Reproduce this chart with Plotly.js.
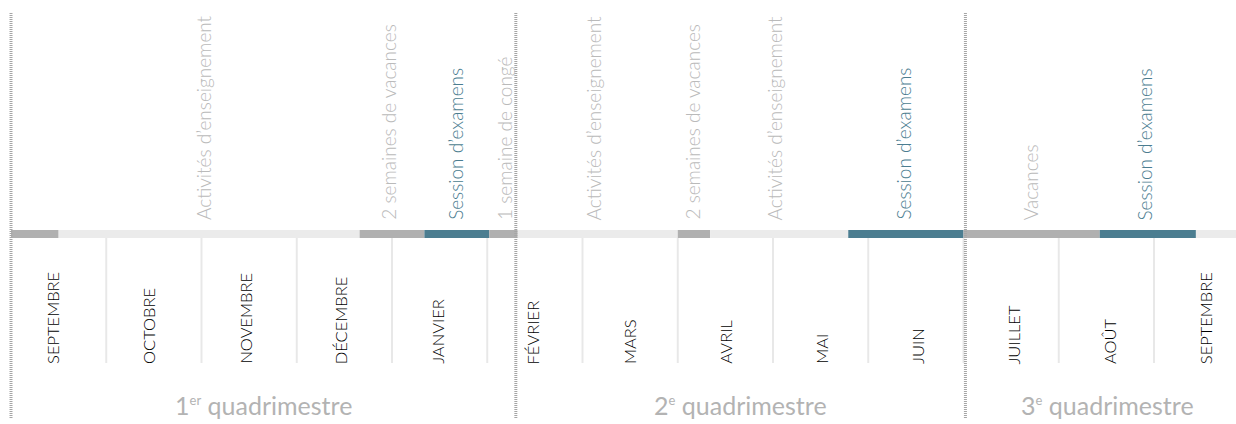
<!DOCTYPE html>
<html>
<head>
<meta charset="utf-8">
<script src="https://cdn.plot.ly/plotly-3.0.1.min.js"></script>
<style>html,body{margin:0;padding:0;background:#fff;}#chart{width:1236px;height:424px;}</style>
</head>
<body>
<div id="chart"></div>
<script>
// Timeline unit: months since 1 September (0 = 1 Sept, 12 = 1 Sept following year)
const segStart = [0, 0.5, 3.66, 4.34, 5.02, 5.32, 7.0, 7.34, 8.79, 10.0, 11.43, 12.44];
const segEnd   = [0.5, 3.66, 4.34, 5.02, 5.32, 7.0, 7.34, 8.79, 10.0, 11.43, 12.44, 13.0];
const segType  = ['pause','enseignement','pause','examens','pause','enseignement','pause','enseignement','examens','pause','examens','enseignement'];

const periodLabels = ["Activités d’enseignement", "2 semaines de vacances", "Session d’examens", "1 semaine de congé",
  "Activités d’enseignement", "2 semaines de vacances", "Activités d’enseignement", "Session d’examens",
  "Vacances", "Session d’examens"];
const periodLabelPos = [2.02, 3.96, 4.66, 5.18, 6.12, 7.15, 8.02, 9.36, 10.70, 11.90];
const periodLabelType = ['enseignement','pause','examens','pause','enseignement','pause','enseignement','examens','pause','examens'];

const months = ["SEPTEMBRE","OCTOBRE","NOVEMBRE","DÉCEMBRE","JANVIER","FÉVRIER","MARS","AVRIL","MAI","JUIN","JUILLET","AOÛT","SEPTEMBRE"];
const monthBoundaries = [1,2,3,4,5,6,7,8,9,10,11,12];

const quadNum = ["1","2","3"];
const quadSup = ["er","e","e"];
const quadStart = [0, 5.3, 10.02];
const quadEnd   = [5.3, 10.02, 13.0];

// styles
const segColors = {pause:'#b0b0b0', enseignement:'#ebebeb', examens:'#4b7d90'};
const labelColors = {pause:'#bababa', enseignement:'#bababa', examens:'#4b7d90'};
const lightFont = 'Lato, "Open Sans", sans-serif';

// vertical layout (y axis is in pixels from top)
const BAR_Y = 234, BAR_H = 8;

const traces = [];

// month separators
const sepX = [], sepY = [];
monthBoundaries.forEach(m => { sepX.push(m, m, null); sepY.push(238, 363, null); });
traces.push({type:'scatter', mode:'lines', x:sepX, y:sepY, line:{color:'#e8e8e8', width:2}, hoverinfo:'skip', showlegend:false});

// timeline bar
traces.push({
  type:'bar', orientation:'h',
  base: segStart,
  x: segEnd.map((e,i)=>e-segStart[i]),
  y: segStart.map(()=>BAR_Y),
  width: segStart.map(()=>BAR_H),
  marker:{color: segType.map(t=>segColors[t]), line:{width:0}},
  hoverinfo:'skip', showlegend:false
});

// quadrimestre dividers
const qX = [], qY = [];
quadStart.forEach(q => { qX.push(q, q, null); qY.push(13, 418, null); });
traces.push({type:'scatter', mode:'lines', x:qX, y:qY, line:{color:'#a5a5a5', width:3, dash:'1px,1px'}, hoverinfo:'skip', showlegend:false});

const annotations = [];
periodLabels.forEach((t,i)=>{
  annotations.push({x:periodLabelPos[i], y:222, xref:'x', yref:'y', text:t, showarrow:false, textangle:-90,
    xanchor:'center', yanchor:'bottom', font:{family:lightFont, size:19, weight:300, color:labelColors[periodLabelType[i]]}});
});
months.forEach((t,i)=>{
  annotations.push({x:0.44 + 1.009*i, y:366, xref:'x', yref:'y', text:t, showarrow:false, textangle:-90,
    xanchor:'center', yanchor:'bottom', font:{family:lightFont, size:16.5, weight:300, color:'#000000'}});
});
quadNum.forEach((n,i)=>{
  annotations.push({x:(quadStart[i]+quadEnd[i])/2, y:405, xref:'x', yref:'y',
    text: n + '<sup><span style="font-size:13px">' + quadSup[i] + '</span></sup> quadrimestre', showarrow:false,
    xanchor:'center', yanchor:'middle', font:{family:lightFont, size:25, weight:400, color:'#b3b3b3'}});
});

const layout = {
  width:1236, height:424,
  margin:{l:0, r:0, t:0, b:0},
  paper_bgcolor:'#ffffff', plot_bgcolor:'#ffffff',
  barmode:'overlay',
  xaxis:{range:[(0-11)/95.25, (1236-11)/95.25], visible:false, fixedrange:true},
  yaxis:{range:[424, 0], visible:false, fixedrange:true},
  annotations: annotations,
  showlegend:false
};

Plotly.newPlot('chart', traces, layout, {staticPlot:true, displayModeBar:false});
</script>
</body>
</html>
